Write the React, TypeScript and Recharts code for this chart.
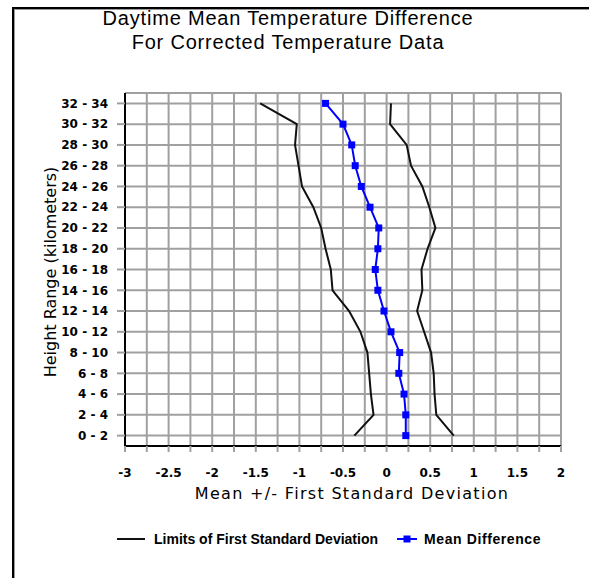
import React from 'react';
import { CartesianGrid, Legend, Line, LineChart, XAxis, YAxis } from 'recharts';

// height bands, listed top to bottom as drawn
const ranges = [
  '32 - 34', '30 - 32', '28 - 30', '26 - 28', '24 - 26', '22 - 24', '20 - 22', '18 - 20', '16 - 18',
  '14 - 16', '12 - 14', '10 - 12', '8 - 10', '6 - 8', '4 - 6', '2 - 4', '0 - 2',
];
const meanDiff = [-0.7, -0.5, -0.4, -0.36, -0.29, -0.19, -0.09, -0.1, -0.13, -0.1, -0.03, 0.05, 0.15, 0.14, 0.2, 0.22, 0.22];
const lowerLimit = [-1.45, -1.03, -1.05, -1.01, -0.97, -0.84, -0.75, -0.7, -0.64, -0.62, -0.43, -0.3, -0.22, -0.2, -0.18, -0.15, -0.37];
const upperLimit = [0.05, 0.04, 0.23, 0.28, 0.41, 0.49, 0.56, 0.47, 0.4, 0.41, 0.35, 0.43, 0.51, 0.54, 0.55, 0.57, 0.77];

const xTicks = [-3, -2.75, -2.5, -2.25, -2, -1.75, -1.5, -1.25, -1, -0.75, -0.5, -0.25, 0, 0.25, 0.5, 0.75, 1, 1.25, 1.5, 1.75, 2];

const rows = ranges.map((range, i) => ({
  range,
  mean: meanDiff[i],
  lower: lowerLimit[i],
  upper: upperLimit[i],
}));

const GRID = '#a0a0a0';
const tickFont = { fontFamily: 'DejaVu Sans', fontSize: 12, fontWeight: 700, fill: '#000' };
const titleFont = 'Liberation Sans, Arial, sans-serif';

function SquareDot(props: any) {
  const { cx, cy } = props;
  if (cx == null || cy == null) return null;
  return <rect x={cx - 3.5} y={cy - 3.5} width={7} height={7} fill="#0000ff" />;
}

function LegendBox({ payload }: any) {
  const items = (payload ?? []).filter((p: any) => p.type !== 'none');
  const spots = [117, 397];
  return (
    <div style={{ position: 'relative', width: 589, height: 20, fontFamily: titleFont, fontSize: 14, fontWeight: 700 }}>
      {items.map((p: any, i: number) => (
        <div key={p.value} style={{ position: 'absolute', left: spots[i], top: 0, display: 'flex', alignItems: 'center', height: 20 }}>
          <svg width={i === 0 ? 28 : 20} height={10} style={{ marginRight: i === 0 ? 9 : 7 }}>
            <line x1={0} y1={5} x2={i === 0 ? 28 : 20} y2={5} stroke={p.color} strokeWidth={2} />
            {i === 1 && <rect x={6.5} y={1.5} width={7} height={7} fill={p.color} />}
          </svg>
          <span style={{ whiteSpace: 'nowrap', letterSpacing: i === 1 ? 0.6 : 0 }}>{p.value}</span>
        </div>
      ))}
    </div>
  );
}

export default function App() {
  return (
    <div style={{ position: 'absolute', left: 0, top: 0, width: 589, height: 578, background: '#fff' }}>
      <LineChart
        width={589}
        height={578}
        data={rows}
        layout="vertical"
        margin={{ top: 93, right: 28, bottom: 102, left: 0 }}
      >
        <rect x={12} y={7} width={577} height={2} fill="#000" />
        <rect x={14} y={9} width={575} height={1} fill="#999" />
        <rect x={12} y={7} width={2} height={571} fill="#000" />
        <rect x={14} y={9} width={1} height={569} fill="#999" />
        <text x={288} y={25} textAnchor="middle" fontFamily={titleFont} fontSize={20} letterSpacing={0.8}>
          Daytime Mean Temperature Difference
        </text>
        <text x={288} y={49} textAnchor="middle" fontFamily={titleFont} fontSize={20} letterSpacing={0.8}>
          For Corrected Temperature Data
        </text>
        <text x={352} y={499} textAnchor="middle" fontFamily="DejaVu Sans" fontSize={16} letterSpacing={1.3}>
          Mean +/- First Standard Deviation
        </text>
        <text
          x={50}
          y={272}
          textAnchor="middle"
          dominantBaseline="central"
          transform="rotate(-90, 50, 272)"
          fontFamily="DejaVu Sans"
          fontSize={16}
        >
          Height Range (kilometers)
        </text>

        <CartesianGrid stroke={GRID} strokeWidth={2} />
        <XAxis
          type="number"
          domain={[-3, 2]}
          ticks={xTicks}
          interval={0}
          tickFormatter={(v: number) => (Number.isInteger(v * 2) ? String(v) : '')}
          tick={tickFont}
          tickSize={6}
          tickMargin={16}
          tickLine={{ stroke: GRID, strokeWidth: 2 }}
          axisLine={{ stroke: '#000', strokeWidth: 2 }}
          height={30}
        />
        <XAxis
          xAxisId="top"
          orientation="top"
          type="number"
          domain={[-3, 2]}
          tick={false}
          tickLine={false}
          axisLine={{ stroke: '#000', strokeWidth: 2 }}
          height={0}
        />
        <YAxis
          type="category"
          dataKey="range"
          scale="band"
          interval={0}
          width={125}
          tick={tickFont}
          tickSize={8}
          tickMargin={9}
          tickLine={{ stroke: GRID, strokeWidth: 2 }}
          axisLine={{ stroke: '#000', strokeWidth: 2 }}
        />
        <YAxis
          yAxisId="right"
          orientation="right"
          type="number"
          domain={[0, 1]}
          tick={false}
          tickLine={false}
          axisLine={{ stroke: '#000', strokeWidth: 2 }}
          width={0}
        />
        <Legend
          layout="horizontal"
          verticalAlign="middle"
          align="center"
          wrapperStyle={{ position: 'absolute', left: 0, top: 529, width: 589, height: 20 }}
          content={<LegendBox />}
        />
        <Line
          dataKey="lower"
          name="Limits of First Standard Deviation"
          stroke="#111"
          strokeWidth={2}
          dot={false}
          isAnimationActive={false}
        />
        <Line
          dataKey="upper"
          name="upper"
          legendType="none"
          stroke="#111"
          strokeWidth={2}
          dot={false}
          isAnimationActive={false}
        />
        <Line
          dataKey="mean"
          name="Mean Difference"
          stroke="#0000ff"
          strokeWidth={2}
          dot={<SquareDot />}
          isAnimationActive={false}
        />
      </LineChart>
    </div>
  );
}
